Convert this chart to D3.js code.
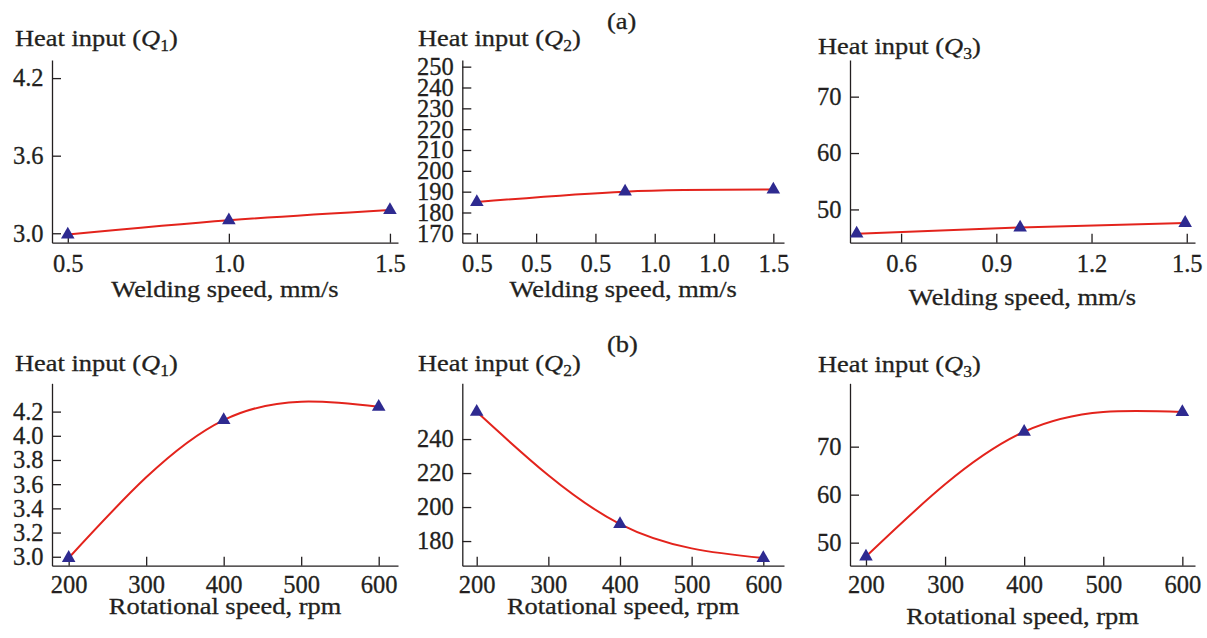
<!DOCTYPE html>
<html>
<head>
<meta charset="utf-8">
<script src="https://cdn.jsdelivr.net/npm/d3@7"></script>
<style>
  body { margin: 0; background: #fff; }
  text { font-family: "Liberation Serif", "Times New Roman", serif; fill: #231f20; stroke: #231f20; stroke-width: 0.3; }
  .axis path, .axis line { stroke: #231f20; stroke-width: 1.3; }
  .axis text { font-size: 24.5px; }
  .label { font-size: 24px; }
</style>
</head>
<body>
<div id="chart"></div>
<script>
// data
const weldSpeed = [0.5, 1.0, 1.5];
const weldSpeedQ3 = [0.46, 0.975, 1.495];
const rotSpeed = [200, 400, 600];

const q1Weld = [2.99, 3.10, 3.18];
const q2Weld = [185, 190, 191];
const q3Weld = [45.7, 46.8, 47.6];

const q1Rot = [2.99, 4.13, 4.24];
const q2Rot = [256, 190, 170];
const q3Rot = [47.1, 73.1, 77.2];

// tick values / labels
const weldTicks = [0.5, 1.0, 1.5];
const weldTicksQ2 = [0.5, 0.7, 0.9, 1.1, 1.3, 1.5];
const weldLabelsQ2 = ["0.5", "0.5", "0.5", "1.0", "1.0", "1.5"];
const weldTicksQ3 = [0.6, 0.9, 1.2, 1.5];
const rotTicks = [200, 300, 400, 500, 600];
const q1WeldTicks = [3.0, 3.6, 4.2];
const q2WeldTicks = [170, 180, 190, 200, 210, 220, 230, 240, 250];
const q3WeldTicks = [50, 60, 70];
const q1RotTicks = [3.0, 3.2, 3.4, 3.6, 3.8, 4.0, 4.2];
const q2RotTicks = [180, 200, 220, 240];
const q3RotTicks = [50, 60, 70];

const W = 1207, H = 638;
const tick_len = 9;
const label_stretch = 1.1;   // lettering of the titles is a bit wide

const svg = d3.select("#chart").append("svg")
    .attr("width", W)
    .attr("height", H);

// panel layout (pixel frames) + axis ranges
const panels = [
  {x: weldSpeed, y: q1Weld, q: "1", xt: weldTicks, xf: d3.format(".1f"), yt: q1WeldTicks, yf: d3.format(".1f"),
   xd: [0.451, 1.525], yd: [2.927, 4.34], left: 52, right: 398, top: 60, bottom: 242.7,
   title: [15, 45.5], xlab: "Welding speed, mm/s", xlabY: 297, xpad: 11.6},
  {x: weldSpeed, y: q2Weld, q: "2", xt: weldTicksQ2, xf: (d, i) => weldLabelsQ2[i], yt: q2WeldTicks, yf: d3.format("d"),
   xd: [0.451, 1.536], yd: [165.5, 253.2], left: 462.3, right: 784, top: 60, bottom: 242.7,
   title: [418, 45.5], xlab: "Welding speed, mm/s", xlabY: 297, xpad: 11.6},
  {x: weldSpeedQ3, y: q3Weld, q: "3", xt: weldTicksQ3, xf: d3.format(".1f"), yt: q3WeldTicks, yf: d3.format("d"),
   xd: [0.439, 1.526], yd: [44.1, 76.5], left: 850, right: 1195, top: 60, bottom: 242.7,
   title: [818, 54], xlab: "Welding speed, mm/s", xlabY: 305, xpad: 11.6},
  {x: rotSpeed, y: q1Rot, q: "1", xt: rotTicks, xf: d3.format("d"), yt: q1RotTicks, yf: d3.format(".1f"),
   xd: [178.5, 624.9], yd: [2.926, 4.434], left: 52, right: 398, top: 383.3, bottom: 565.7,
   title: [15, 370.5], xlab: "Rotational speed, rpm", xlabY: 614, xpad: 9.8},
  {x: rotSpeed, y: q2Rot, q: "2", xt: rotTicks, xf: d3.format("d"), yt: q2RotTicks, yf: d3.format("d"),
   xd: [179.9, 628.9], yd: [165.5, 272.8], left: 462.3, right: 784, top: 383.3, bottom: 565.7,
   title: [418, 370.5], xlab: "Rotational speed, rpm", xlabY: 614, xpad: 9.8},
  {x: rotSpeed, y: q3Rot, q: "3", xt: rotTicks, xf: d3.format("d"), yt: q3RotTicks, yf: d3.format("d"),
   xd: [179.8, 616], yd: [45.2, 83.2], left: 850, right: 1195, top: 383.3, bottom: 565.7,
   title: [818, 371.5], xlab: "Rotational speed, rpm", xlabY: 624, xpad: 9.8}
];

function labelText(x, y) {
  return svg.append("text")
      .attr("class", "label")
      .attr("transform", `translate(${x},${y}) scale(${label_stretch},1)`);
}

panels.forEach(p => {
  const xScale = d3.scaleLinear().domain(p.xd).range([p.left, p.right]);
  const yScale = d3.scaleLinear().domain(p.yd).range([p.bottom, p.top]);

  // x axis (ticks pointing inward)
  svg.append("g")
      .attr("class", "axis")
      .attr("transform", `translate(0,${p.bottom})`)
      .call(d3.axisBottom(xScale)
          .tickValues(p.xt)
          .tickFormat(p.xf)
          .tickSizeInner(-tick_len)
          .tickSizeOuter(0)
          .tickPadding(p.xpad));

  // y axis
  svg.append("g")
      .attr("class", "axis")
      .attr("transform", `translate(${p.left},0)`)
      .call(d3.axisLeft(yScale)
          .tickValues(p.yt)
          .tickFormat(p.yf)
          .tickSizeInner(-tick_len)
          .tickSizeOuter(0)
          .tickPadding(8.5));

  svg.selectAll(".axis .domain").attr("fill", "none");
  svg.selectAll(".axis text").attr("fill", "#231f20");

  const pts = p.x.map((d, i) => [d, p.y[i]]);

  // smooth red curve
  const line = d3.line()
      .x(d => xScale(d[0]))
      .y(d => yScale(d[1]))
      .curve(d3.curveNatural);

  svg.append("path")
      .datum(pts)
      .attr("d", line)
      .attr("fill", "none")
      .attr("stroke", "#e3231c")
      .attr("stroke-width", 2);

  // triangle markers
  svg.append("g")
    .selectAll("path")
    .data(pts)
    .enter()
    .append("path")
      .attr("d", d3.symbol().type(d3.symbolTriangle).size(80))
      .attr("transform", d => `translate(${xScale(d[0])},${yScale(d[1])})`)
      .attr("fill", "#2e2a90");

  // y label "Heat input (Q_n)"
  const t = labelText(p.title[0], p.title[1]);
  t.append("tspan").text("Heat input (");
  t.append("tspan").attr("font-style", "italic").text("Q");
  t.append("tspan").attr("font-size", "16px").attr("dy", 5).text(p.q);
  t.append("tspan").attr("dy", -5).text(")");

  // x label
  labelText((p.left + p.right) / 2, p.xlabY)
      .attr("text-anchor", "middle")
      .text(p.xlab);
});

// part labels
labelText(607, 29).text("(a)");
labelText(607, 352).text("(b)");
</script>
</body>
</html>
